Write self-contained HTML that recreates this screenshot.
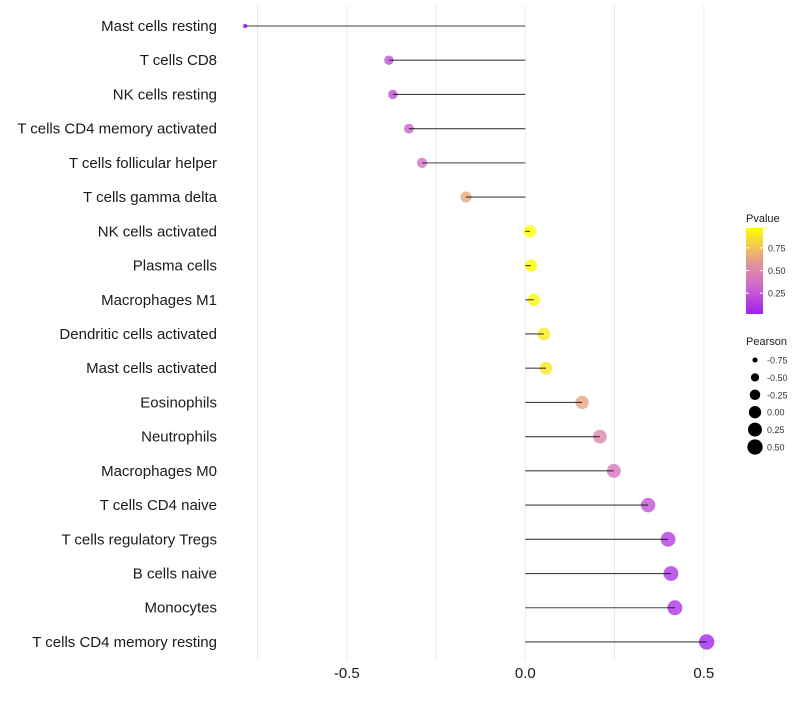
<!DOCTYPE html>
<html><head><meta charset="utf-8"><style>
body{margin:0;background:#fff;width:800px;height:700px;overflow:hidden}
svg text{font-family:"Liberation Sans",sans-serif}
</style></head><body>
<svg id="chart" width="800" height="700"></svg>
<script>
const categories=["Mast cells resting","T cells CD8","NK cells resting","T cells CD4 memory activated","T cells follicular helper","T cells gamma delta","NK cells activated","Plasma cells","Macrophages M1","Dendritic cells activated","Mast cells activated","Eosinophils","Neutrophils","Macrophages M0","T cells CD4 naive","T cells regulatory  Tregs ","B cells naive","Monocytes","T cells CD4 memory resting"];
const pearson=[-0.785,-0.382,-0.371,-0.326,-0.289,-0.166,0.013,0.016,0.024,0.052,0.058,0.159,0.209,0.248,0.344,0.40,0.408,0.419,0.508];
const pvalues=[0.02,0.22,0.22,0.3,0.36,0.66,0.97,0.97,0.94,0.9,0.88,0.64,0.5,0.4,0.24,0.14,0.12,0.1,0.05];
const xTicks=[-0.5,0,0.5];
const xTickLabels=["-0.5","0.0","0.5"];
const gridVals=[-0.75,-0.5,-0.25,0,0.25,0.5];
const pTicks=[0.25,0.5,0.75];
const sizeKeys=[-0.75,-0.5,-0.25,0,0.25,0.5];

const NS="http://www.w3.org/2000/svg";
const svg=document.getElementById('chart');
function mk(t,a,p){const e=document.createElementNS(NS,t);for(const k in a)e.setAttribute(k,a[k]);(p||svg).appendChild(e);return e;}
const x=v=>525.3+v*357;
const y=i=>26+i*34.22;
const r=v=>Math.sqrt(Math.max(1,38+42*v));
function lerp(a,b,t){return a.map((c,i)=>Math.round(c+(b[i]-c)*t));}
function col(p){const t=Math.min(1,Math.max(0,(p-0.02)/0.95));
 const s=[[160,32,240],[210,110,200],[228,150,150],[255,255,0]],st=[0,0.35,0.6,1];
 for(let i=0;i<3;i++)if(t<=st[i+1]){const c=lerp(s[i],s[i+1],(t-st[i])/(st[i+1]-st[i]));return `rgb(${c})`;}
 return 'rgb(255,255,0)';}

const grid=mk('g',{});
gridVals.forEach(v=>{const l=mk('line',{x1:x(v),x2:x(v),y1:5,y2:660,stroke:'#ebebeb','stroke-width':1},grid);
});

categories.forEach((c,i)=>{
 const t=mk('text',{x:217,y:y(i)+5,'text-anchor':'end','font-size':15,fill:'#1a1a1a'});t.textContent=c;
 
 const pt=mk('circle',{cx:x(pearson[i]),cy:y(i),r:r(pearson[i]),fill:col(pvalues[i]),'fill-opacity':0.8});
 
 const s=mk('line',{x1:x(0),x2:x(pearson[i]),y1:y(i),y2:y(i),stroke:'#000','stroke-width':1.1,'stroke-opacity':0.75});
 
});
xTicks.forEach((v,i)=>{const t=mk('text',{x:x(v),y:678,'text-anchor':'middle','font-size':15,fill:'#1a1a1a'});t.textContent=xTickLabels[i];
 });

const lg=mk('g',{});
const t1=mk('text',{x:746,y:222,'font-size':11,fill:'#1a1a1a'},lg);t1.textContent='Pvalue';

const defs=mk('defs',{});const gr=mk('linearGradient',{id:'pg',x1:0,y1:1,x2:0,y2:0},defs);
for(let k=0;k<=10;k++){mk('stop',{offset:k/10,'stop-color':col(0.02+0.95*k/10)},gr);}
const bar=mk('rect',{x:746,y:228,width:17,height:86,fill:'url(#pg)'},lg);

const py=p=>314-(p-0.02)/0.95*86;
pTicks.forEach(p=>{mk('line',{x1:746,x2:749,y1:py(p),y2:py(p),stroke:'#fff'},lg);mk('line',{x1:760,x2:763,y1:py(p),y2:py(p),stroke:'#fff'},lg);
 const t=mk('text',{x:768,y:py(p)+3.5,'font-size':9,fill:'#333'},lg);t.textContent=p.toFixed(2);
 });
const t2=mk('text',{x:746,y:345,'font-size':11,fill:'#1a1a1a'},lg);t2.textContent='Pearson';

sizeKeys.forEach((v,i)=>{const cy=360+i*17.4;
 const c=mk('circle',{cx:755,cy:cy,r:r(v),fill:'#000'},lg);
 const t=mk('text',{x:767,y:cy+3.5,'font-size':9,fill:'#333'},lg);t.textContent=v.toFixed(2);
 });
</script>
</body></html>
